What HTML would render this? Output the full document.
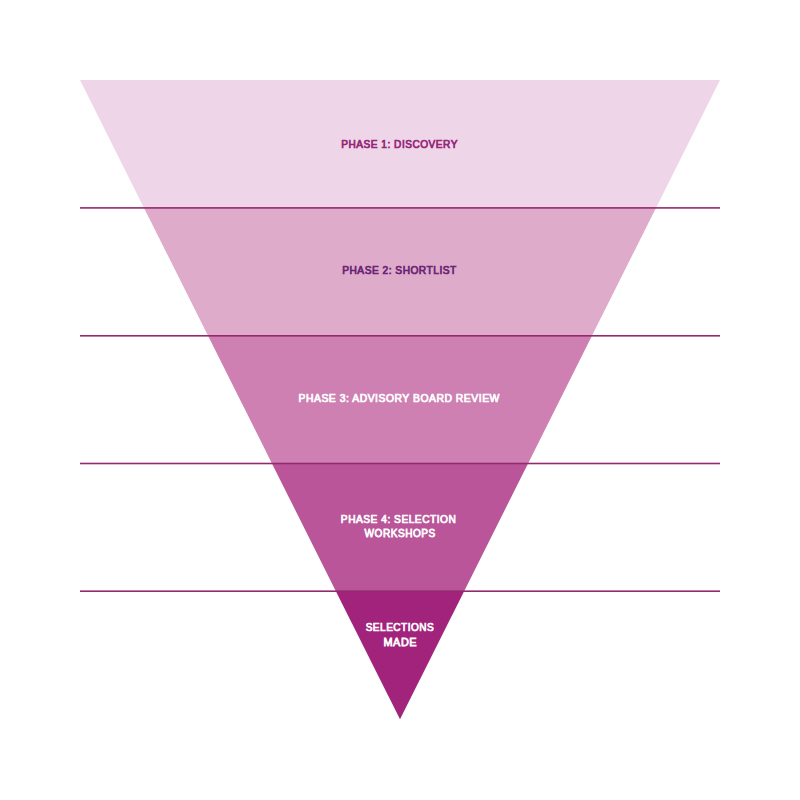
<!DOCTYPE html>
<html><head><meta charset="utf-8">
<style>
html,body{margin:0;padding:0;background:#fff;width:800px;height:800px;overflow:hidden}
svg{display:block}
text{font-family:"Liberation Sans",sans-serif;font-weight:normal;font-size:10.95px;text-anchor:middle;letter-spacing:0.55px}
</style></head><body>
<svg width="800" height="800" viewBox="0 0 800 800">
<rect width="800" height="800" fill="#fff"/>
<polygon points="80.00,80.00 720.00,80.00 655.98,207.90 144.02,207.90" fill="#EFD5E8"/>
<polygon points="144.02,207.90 655.98,207.90 591.96,335.80 208.04,335.80" fill="#DFABCB"/>
<polygon points="208.04,335.80 591.96,335.80 528.04,463.50 271.96,463.50" fill="#CE80B2"/>
<polygon points="271.96,463.50 528.04,463.50 464.12,591.20 335.88,591.20" fill="#BA5599"/>
<polygon points="335.88,591.20 464.12,591.20 400.00,719.30" fill="#A2237B"/>

<g fill="#94296F">
<rect x="80" y="207.10" width="640" height="1.6"/>
<rect x="80" y="335.00" width="640" height="1.6"/>
<rect x="80" y="462.70" width="640" height="1.6"/>
<rect x="80" y="590.40" width="640" height="1.6"/>

</g>
<text transform="matrix(0.9228,0,0,1,30.861,0)" x="399.60" y="147.65" fill="#952577" stroke="#952577" stroke-width="0.75">PHASE 1: DISCOVERY</text>
<text transform="matrix(0.9285,0,0,1,28.562,0)" x="399.50" y="274.45" fill="#692373" stroke="#692373" stroke-width="0.75">PHASE 2: SHORTLIST</text>
<text transform="matrix(0.9479,0,0,1,20.799,0)" x="399.20" y="402.15" fill="#fff" stroke="#fff" stroke-width="0.75">PHASE 3: ADVISORY BOARD REVIEW</text>
<text transform="matrix(0.9304,0,0,1,27.759,0)" x="398.60" y="523.4" fill="#fff" stroke="#fff" stroke-width="0.75">PHASE 4: SELECTION</text>
<text transform="matrix(0.9218,0,0,1,31.280,0)" x="400.18" y="536.55" fill="#fff" stroke="#fff" stroke-width="0.75">WORKSHOPS</text>
<text transform="matrix(0.9189,0,0,1,32.436,0)" x="400.00" y="631.45" fill="#fff" stroke="#fff" stroke-width="0.75">SELECTIONS</text>
<text transform="matrix(0.9928,0,0,1,2.889,0)" x="400.30" y="645.65" fill="#fff" stroke="#fff" stroke-width="0.75">MADE</text>
</svg>
</body></html>
